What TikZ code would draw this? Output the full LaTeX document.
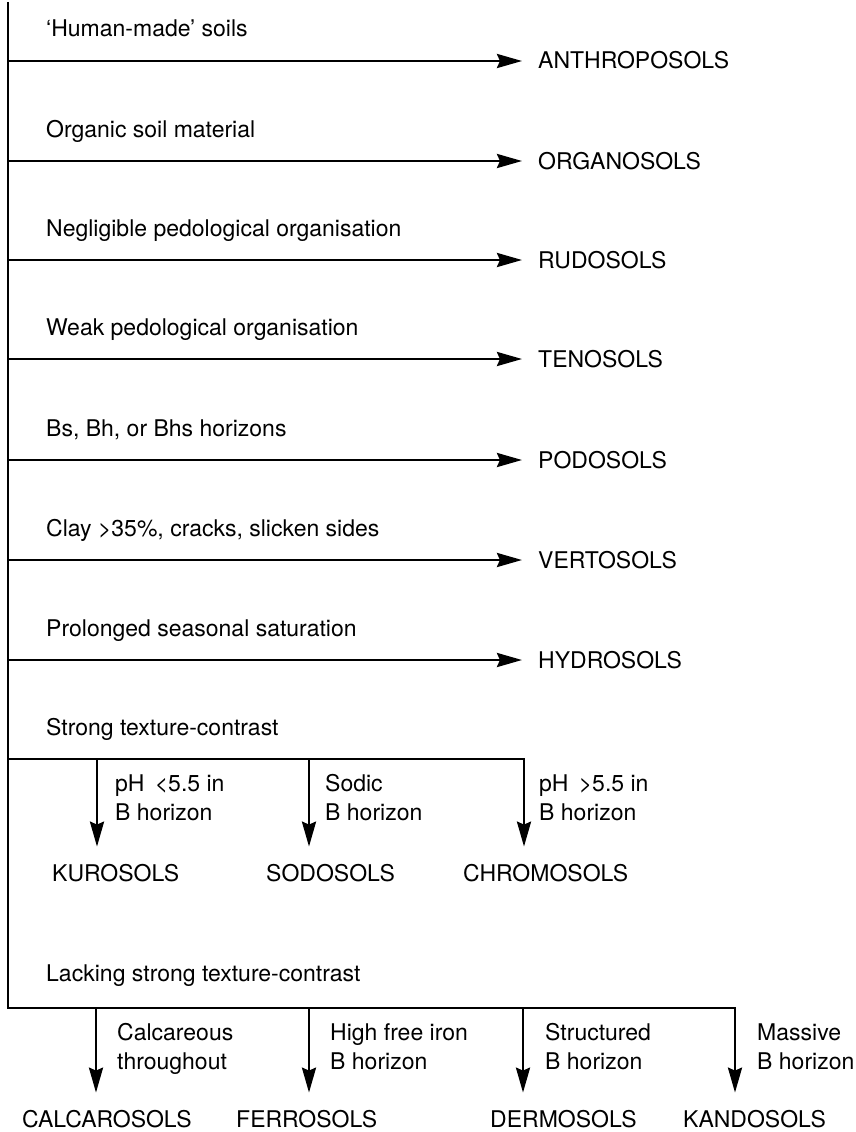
\documentclass[tikz,border=0pt]{standalone}
\usepackage{fontspec}
\setmainfont{TeX Gyre Heros}
\usetikzlibrary{arrows.meta}

\tikzset{
  line/.style={line width=2.8pt, line join=miter},
  arr/.style={line, -{Stealth[length=25pt, width=14pt, inset=3pt]}},
  txt/.style={inner sep=0pt, anchor=base west, align=left,
              font=\fontsize{23}{29}\selectfont},
}

\begin{document}
\begin{tikzpicture}[x=1pt, y=-1pt]
\useasboundingbox (0,0) rectangle (856,1132);

% trunk of the key
\coordinate (top) at (8,2);

% single-criterion branches: criterion above, order to the right
\foreach \i/\yy/\crit/\cls in {
  1/61/{‘Human-made’ soils}/ANTHROPOSOLS,
  2/161/{Organic soil material}/ORGANOSOLS,
  3/260/{Negligible pedological organisation}/RUDOSOLS,
  4/359/{Weak pedological organisation}/TENOSOLS,
  5/460/{Bs, Bh, or Bhs horizons}/PODOSOLS,
  6/560/{Clay >35\%, cracks, slicken sides}/VERTOSOLS,
  7/660/{Prolonged seasonal saturation}/HYDROSOLS}{
  \coordinate (j\i) at (8,\yy);
  \node[txt] (crit\i) at (46,\yy-24) {\crit};
  \node[txt] (ord\i) at (538,\yy+8) {\cls};
  \draw[arr, shorten >=16pt] (j\i) -- (j\i -| ord\i.west);
}

% strong texture-contrast branch (two-line labels sit on their last line)
\node[txt] (strong) at (46,735) {Strong texture-contrast};
\coordinate (s0) at (8,759);
\coordinate (s1) at (97,759);
\coordinate (s2) at (309,759);
\coordinate (s3) at (524,759);
\node[txt] (c1) at (115,820) {pH \,<5.5 in\\B horizon};
\node[txt] (c2) at (325,820) {Sodic\\B horizon};
\node[txt] (c3) at (539,820) {pH \,>5.5 in\\B horizon};
\node[txt] (kur) at (52,881) {KUROSOLS};
\node[txt] (sod) at (266,881) {SODOSOLS};
\node[txt] (chr) at (463,881) {CHROMOSOLS};
\draw[arr, shorten >=17pt] (s0) -- (s3) -- (s3 |- chr.north);
\draw[arr, shorten >=17pt] (s1) -- (s1 |- kur.north);
\draw[arr, shorten >=17pt] (s2) -- (s2 |- sod.north);

% lacking strong texture-contrast branch
\node[txt] (lack) at (46,981) {Lacking strong texture-contrast};
\coordinate (bl) at (8,1008);
\coordinate (k1) at (96,1008);
\coordinate (k2) at (309,1008);
\coordinate (k3) at (523,1008);
\coordinate (k4) at (735,1008);
\node[txt] (d1) at (117,1069) {Calcareous\\throughout};
\node[txt] (d2) at (330,1069) {High free iron\\B horizon};
\node[txt] (d3) at (545,1069) {Structured\\B horizon};
\node[txt] (d4) at (757,1069) {Massive\\B horizon};
\node[txt] (cal) at (22,1127) {CALCAROSOLS};
\node[txt] (fer) at (236,1127) {FERROSOLS};
\node[txt] (der) at (490,1127) {DERMOSOLS};
\node[txt] (kan) at (683,1127) {KANDOSOLS};

% trunk, bottom rail and the last branch in one stroke
\draw[arr, shorten >=17pt] (top) -- (bl) -- (k4) -- (k4 |- kan.north);
\draw[arr, shorten >=17pt] (k1) -- (k1 |- cal.north);
\draw[arr, shorten >=17pt] (k2) -- (k2 |- fer.north);
\draw[arr, shorten >=17pt] (k3) -- (k3 |- der.north);
\end{tikzpicture}
\end{document}
